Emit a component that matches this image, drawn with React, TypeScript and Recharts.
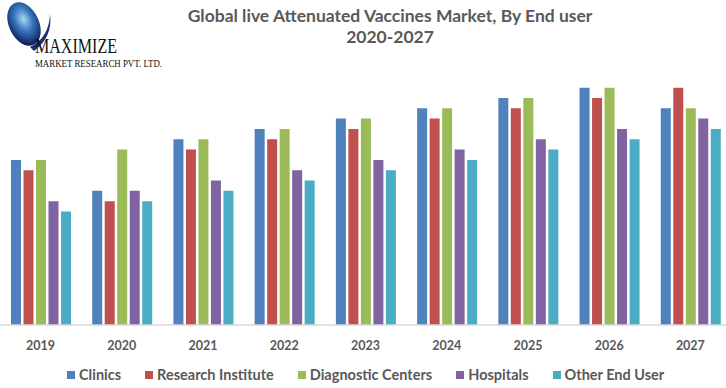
import { Bar, BarChart, XAxis, YAxis } from "recharts";

const years = ["2019", "2020", "2021", "2022", "2023", "2024", "2025", "2026", "2027"];
const clinics = [16, 13, 18, 19, 20, 21, 22, 23, 21];
const researchInstitute = [15, 12, 17, 18, 19, 20, 21, 22, 23];
const diagnosticCenters = [16, 17, 18, 19, 20, 21, 22, 23, 21];
const hospitals = [12, 13, 14, 15, 16, 17, 18, 19, 20];
const otherEndUser = [11, 12, 13, 14, 15, 16, 17, 18, 19];

const SERIES = [
  { key: "clinics", label: "Clinics", color: "#4F81BD", values: clinics },
  { key: "research", label: "Research Institute", color: "#C0504D", values: researchInstitute },
  { key: "diagnostic", label: "Diagnostic Centers", color: "#9BBB59", values: diagnosticCenters },
  { key: "hospitals", label: "Hospitals", color: "#8064A2", values: hospitals },
  { key: "other", label: "Other End User", color: "#4BACC6", values: otherEndUser },
];

const data = years.map((year, i) => {
  const row: Record<string, string | number> = { year };
  SERIES.forEach((s) => {
    row[s.key] = s.values[i];
  });
  return row;
});

const FONT = "Lato, 'Open Sans', sans-serif";
const INK = "#595959";

// rough stand-in for the logo in the top-left corner
function Logo() {
  return (
    <svg width={230} height={74} style={{ position: "absolute", left: 0, top: 0 }}>
      <defs>
        <radialGradient id="globe" cx="0.55" cy="0.4" r="0.6">
          <stop offset="0%" stopColor="#a8d8f4" />
          <stop offset="45%" stopColor="#3a78c0" />
          <stop offset="100%" stopColor="#0d1f5c" />
        </radialGradient>
      </defs>
      <ellipse cx={24} cy={24} rx={15} ry={23} transform="rotate(-25 24 24)" fill="url(#globe)" />
      <path d="M30 47 Q49 38 50 14 Q53 37 34 51 Z" fill="#1c2f7a" />
      <text
        x={35}
        y={53}
        fontFamily="'Liberation Serif', 'DejaVu Serif', serif"
        fontSize={20}
        fill="#111"
        textLength={82}
        lengthAdjust="spacingAndGlyphs"
      >
        MAXIMIZE
      </text>
      <text
        x={35}
        y={67}
        fontFamily="'Liberation Serif', 'DejaVu Serif', serif"
        fontSize={10.5}
        fill="#111"
        textLength={127}
        lengthAdjust="spacingAndGlyphs"
      >
        MARKET RESEARCH PVT. LTD.
      </text>
    </svg>
  );
}

export default function App() {
  return (
    <div
      style={{
        position: "absolute",
        left: 0,
        top: 0,
        width: 726,
        height: 388,
        overflow: "hidden",
        background: "#fff",
        fontFamily: FONT,
      }}
    >
      <Logo />
      <div
        style={{
          position: "absolute",
          left: 0,
          width: 780,
          top: 5,
          textAlign: "center",
          fontWeight: 700,
          fontSize: 17.5,
          lineHeight: "21px",
          color: INK,
        }}
      >
        Global live Attenuated Vaccines Market, By End user
        <br />
        2020-2027
      </div>
      <div style={{ position: "absolute", left: 0, top: 0 }}>
        <BarChart
          width={731}
          height={388}
          data={data}
          margin={{ top: 67, right: 0, left: 0, bottom: 0 }}
          barSize={10}
          barGap={2.5}
        >
          <XAxis
            dataKey="year"
            height={63}
            tickSize={0}
            tickMargin={16}
            axisLine={{ stroke: "#D9D9D9", strokeWidth: 1.5 }}
            tick={{ fontSize: 12.5, fontWeight: 700, fill: INK, fontFamily: FONT }}
            interval={0}
          />
          <YAxis hide domain={[0, 25]} />
          {SERIES.map((s) => (
            <Bar key={s.key} dataKey={s.key} fill={s.color} isAnimationActive={false} />
          ))}
        </BarChart>
      </div>
      <div
        style={{
          position: "absolute",
          left: 67,
          top: 366,
          display: "flex",
          alignItems: "center",
          gap: 24,
          fontSize: 14.5,
          fontWeight: 700,
          color: INK,
        }}
      >
        {SERIES.map((s) => (
          <span key={s.key} style={{ display: "flex", alignItems: "center", gap: 4 }}>
            <span style={{ width: 8, height: 8, background: s.color, display: "inline-block" }} />
            {s.label}
          </span>
        ))}
      </div>
    </div>
  );
}
